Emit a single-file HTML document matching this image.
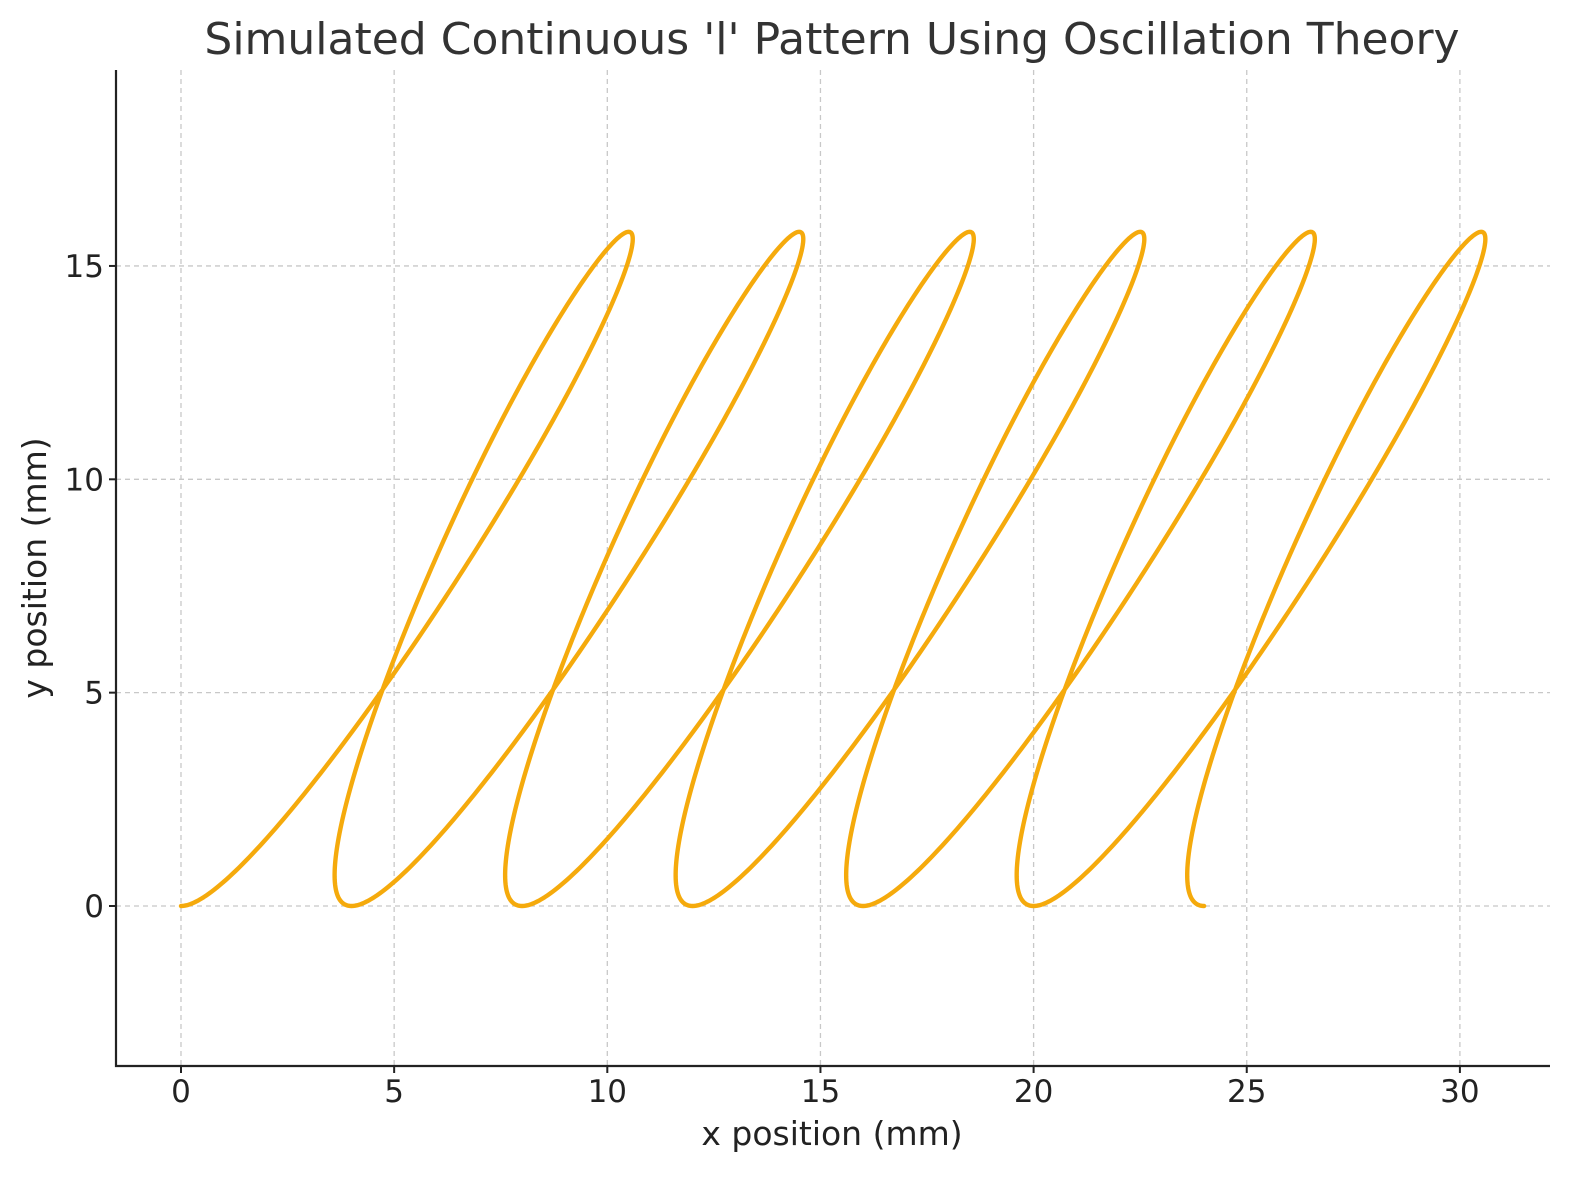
<!DOCTYPE html>
<html><head><meta charset="utf-8"><style>
body{margin:0;background:#fff;}
svg text{font-family:"DejaVu Sans","Liberation Sans",sans-serif;fill:#222;}
</style></head><body>
<svg id="chart" width="1579" height="1180" xmlns="http://www.w3.org/2000/svg">
<rect width="1579" height="1180" fill="#fff"/>
<g id="grid"></g>
<path id="curve" fill="none" stroke="#f5aa0c" stroke-width="4.4" stroke-linejoin="round" stroke-linecap="round"/>
<g id="axes"></g>
<text x="832" y="54" text-anchor="middle" font-size="44" style="fill:#333">Simulated Continuous 'l' Pattern Using Oscillation Theory</text>
<text x="832" y="1145" text-anchor="middle" font-size="33">x position (mm)</text>
<text transform="translate(46,568) rotate(-90)" text-anchor="middle" font-size="33">y position (mm)</text>
</svg>
<script>
const xTicks = [0,5,10,15,20,25,30];
const yTicks = [0,5,10,15];
const loopStartX = [0,4,8,12,16,20];
const loopEndX = [4,8,12,16,20,24];
const loopPeakX = [10.5,14.5,18.5,22.5,26.5,30.5];
const loopPeakY = [15.8,15.8,15.8,15.8,15.8,15.8];
const loopLeftX = [3.6,7.6,11.6,15.6,19.6,23.6];
const loopWidthAt10 = [1.1,1.1,1.1,1.1,1.1,1.1];

const X0=181, PX=42.63, Y0=906, PY=42.67;
const L=116, R=1550, T=70, B=1066;
const sx=v=>X0+v*PX, sy=v=>Y0-v*PY;
const NS='http://www.w3.org/2000/svg';
const grid=document.getElementById('grid'), axes=document.getElementById('axes');
function mk(tag,attrs,parent){const e=document.createElementNS(NS,tag);for(const k in attrs)e.setAttribute(k,attrs[k]);parent.appendChild(e);return e;}
xTicks.forEach(t=>{
  const g=mk('line',{x1:sx(t),x2:sx(t),y1:T,y2:B,stroke:'#c8c8c8','stroke-width':1.3,'stroke-dasharray':'5,4'},grid);
  
  
  const tk=mk('line',{x1:sx(t),x2:sx(t),y1:B,y2:B+7,stroke:'#222','stroke-width':2},axes);
  
  
  const tx=mk('text',{x:sx(t),y:B+36,'text-anchor':'middle','font-size':31},axes);
  tx.textContent=t;
  
  
});
yTicks.forEach(t=>{
  const g=mk('line',{x1:L,x2:R,y1:sy(t),y2:sy(t),stroke:'#c8c8c8','stroke-width':1.3,'stroke-dasharray':'5,4'},grid);
  
  
  const tk=mk('line',{x1:L-7,x2:L,y1:sy(t),y2:sy(t),stroke:'#222','stroke-width':2},axes);
  
  
  const tx=mk('text',{x:L-12,y:sy(t)+11,'text-anchor':'end','font-size':31},axes);
  tx.textContent=t;
  
  
});
const sp=mk('path',{d:`M${L},${T}V${B}H${R}`,fill:'none',stroke:'#222','stroke-width':2.2},axes);



let d='';
for(let k=0;k<loopStartX.length;k++){
  const s=loopStartX[k], e=loopEndX[k];
  const a=(e-s)/(2*Math.PI);
  const b=(loopPeakX[k]-(s+e)/2)/2;
  const c=loopPeakY[k]/2;
  const gap=Math.max(0,e-loopLeftX[k]);
  const m=Math.sqrt(2*b*gap)-a;
  const t1=Math.acos(Math.max(-1,Math.min(1,1-10/c))), t2=2*Math.PI-t1;
  const S=Math.sin(t1)-Math.sin(t2), S2=Math.sin(2*t1)-Math.sin(2*t2);
  const W=loopWidthAt10[k];
  const h=(W - a*(t1-t2) - m*S)/(S2-2*S);
  const dd=m-2*h;
  for(let i=0;i<=300;i++){
    const t=i/300*2*Math.PI;
    const x=s+a*t+b*(1-Math.cos(t))+dd*Math.sin(t)+h*Math.sin(2*t);
    const y=c*(1-Math.cos(t));
    d+=(d?'L':'M')+sx(x).toFixed(2)+','+sy(y).toFixed(2);
  }
}
document.getElementById('curve').setAttribute('d',d);
</script>
</body></html>
